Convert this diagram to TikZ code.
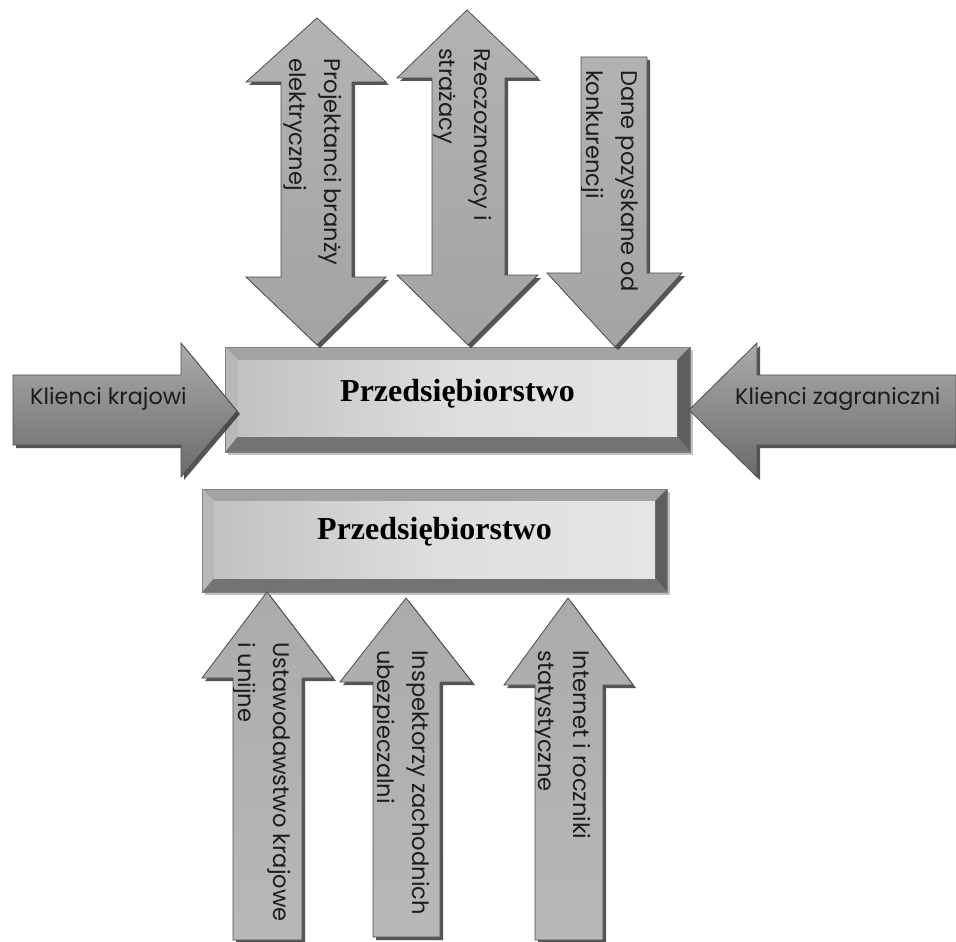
\documentclass[tikz,border=0pt]{standalone}
\usepackage{fontspec}
\newfontfamily\arrowfont{Poppins}
\newfontfamily\titlefont{Liberation Serif}

\definecolor{edgegray}{HTML}{4C4C4C}
\definecolor{inkgray}{HTML}{1C1C1C}

% arrow outlines (pixel grid, y grows downwards)
\def\arrowA{(317,18) -- (386,82) -- (352,82) -- (352,277) -- (386,277) -- (317,345) -- (246,277) -- (281,277) -- (281,82) -- (246,82) -- cycle}
\def\arrowB{(467,10) -- (538,78) -- (505,78) -- (505,275) -- (538,275) -- (468,345) -- (397,275) -- (432,275) -- (432,78) -- (397,78) -- cycle}
\def\arrowC{(581,57) -- (647,57) -- (647,273) -- (682,273) -- (615,347) -- (547,273) -- (581,273) -- cycle}
\def\arrowD{(267,592) -- (333,678) -- (302,678) -- (302,940) -- (233,940) -- (233,678) -- (202,678) -- cycle}
\def\arrowE{(406,598) -- (472,682) -- (440,682) -- (440,937) -- (373,937) -- (373,682) -- (340,682) -- cycle}
\def\arrowF{(568,598) -- (633,685) -- (603,685) -- (603,940) -- (535,940) -- (535,685) -- (504,685) -- cycle}
\def\arrowL{(13,375) -- (181,375) -- (181,343) -- (237,411) -- (181,477) -- (181,445) -- (13,445) -- cycle}
\def\arrowR{(956,375) -- (757,375) -- (757,343) -- (689,410) -- (757,477) -- (757,445) -- (956,445) -- cycle}

\tikzset{
  arrowshadow/.style={fill=black!78, opacity=0.85},
  arrowedge/.style={draw=edgegray, line width=0.8pt, line join=miter},
  downshade/.style={top color=black!30, middle color=black!52, bottom color=black!36},
  upshade/.style={top color=black!33, middle color=black!53, bottom color=black!28},
  sideshade/.style={top color=black!33, middle color=black!45, bottom color=black!58},
  vlabel/.style={font=\arrowfont\fontsize{22.6}{35}\selectfont, rotate=-90, align=left,
                 inner sep=0pt, text=inkgray, anchor=north west},
  hlabel/.style={font=\arrowfont\fontsize{22.4}{26}\selectfont, inner sep=0pt,
                 text=inkgray, anchor=base west},
  titlelabel/.style={font=\titlefont\bfseries\fontsize{32}{36}\selectfont, inner sep=0pt,
                 text=black, anchor=base},
  bevtop/.style={fill=black!36},
  bevleft/.style={fill=black!28},
  bevright/.style={fill=black!63},
  bevbottom/.style={fill=black!55},
  boxface/.style={left color=black!24, right color=black!10, middle color=black!13},
  boxedge/.style={draw=black!50, line width=0.6pt},
}

% bevelled panel: corners (x1,y1) (x2,y2), side bevel, bottom bevel
\newcommand\bevelpanel[6]{%
  \fill[black!40, opacity=0.6] (#1+3,#2+3) rectangle (#3+3,#4+3);
  \fill[bevtop]    (#1,#2) -- (#3,#2) -- (#3-#5,#2+#5) -- (#1+#5,#2+#5) -- cycle;
  \fill[bevright]  (#3,#2) -- (#3,#4) -- (#3-#5,#4-#6) -- (#3-#5,#2+#5) -- cycle;
  \fill[bevbottom] (#1,#4) -- (#3,#4) -- (#3-#5,#4-#6) -- (#1+#5,#4-#6) -- cycle;
  \fill[bevleft]   (#1,#2) -- (#1+#5,#2+#5) -- (#1+#5,#4-#6) -- (#1,#4) -- cycle;
  \shade[boxface]  (#1+#5,#2+#5) rectangle (#3-#5,#4-#6);
  \draw[boxedge]   (#1,#2) rectangle (#3,#4);
}

\begin{document}
\begin{tikzpicture}[x=1pt, y=-1pt]
\useasboundingbox (0,0) rectangle (956,942);
\fill[white] (0,0) rectangle (956,942);

% the two company panels
\bevelpanel{225}{347}{690}{452}{13}{16}
\node[titlelabel] (firmaA) at (457.5,401) {Przedsiębiorstwo};
\bevelpanel{202}{489}{667}{592}{12}{14}
\node[titlelabel] (firmaB) at (434.5,539) {Przedsiębiorstwo};

% drop shadows of all arrows
\foreach \p in {\arrowA,\arrowB,\arrowC,\arrowD,\arrowE,\arrowF,\arrowL,\arrowR}{
  \fill[arrowshadow, shift={(3,3)}] \p;
}

% arrow bodies
\shade[downshade] \arrowA; \draw[arrowedge] \arrowA;
\shade[downshade] \arrowB; \draw[arrowedge] \arrowB;
\shade[downshade] \arrowC; \draw[arrowedge] \arrowC;
\shade[upshade] \arrowD; \draw[arrowedge] \arrowD;
\shade[upshade] \arrowE; \draw[arrowedge] \arrowE;
\shade[upshade] \arrowF; \draw[arrowedge] \arrowF;
\shade[sideshade] \arrowL; \draw[arrowedge] \arrowL;
\shade[sideshade] \arrowR; \draw[arrowedge] \arrowR;

% labels written along the vertical arrows, kept inside each arrow
\begin{scope}
  \clip \arrowA;
  \node[vlabel] (projektanci) at (342,58) {Projektanci branży\\elektrycznej};
\end{scope}
\begin{scope}
  \clip \arrowB;
  \node[vlabel] (rzeczoznawcy) at (492,48) {Rzeczoznawcy i\\strażacy};
\end{scope}
\begin{scope}
  \clip \arrowC;
  \node[vlabel] (konkurencja) at (638,70) {Dane pozyskane od\\konkurencji};
\end{scope}
\begin{scope}
  \clip \arrowD;
  \node[vlabel] (ustawy) at (291,642) {Ustawodawstwo krajowe\\i unijne};
\end{scope}
\begin{scope}
  \clip \arrowE;
  \node[vlabel] (inspektorzy) at (430,650) {Inspektorzy zachodnich\\ubezpieczalni};
\end{scope}
\begin{scope}
  \clip \arrowF;
  \node[vlabel] (internet) at (591,650) {Internet i roczniki\\statystyczne};
\end{scope}

% labels on the side arrows
\node[hlabel] (krajowi) at (30,404) {Klienci krajowi};
\node[hlabel] (zagraniczni) at (735,404) {Klienci zagraniczni};
\end{tikzpicture}
\end{document}
